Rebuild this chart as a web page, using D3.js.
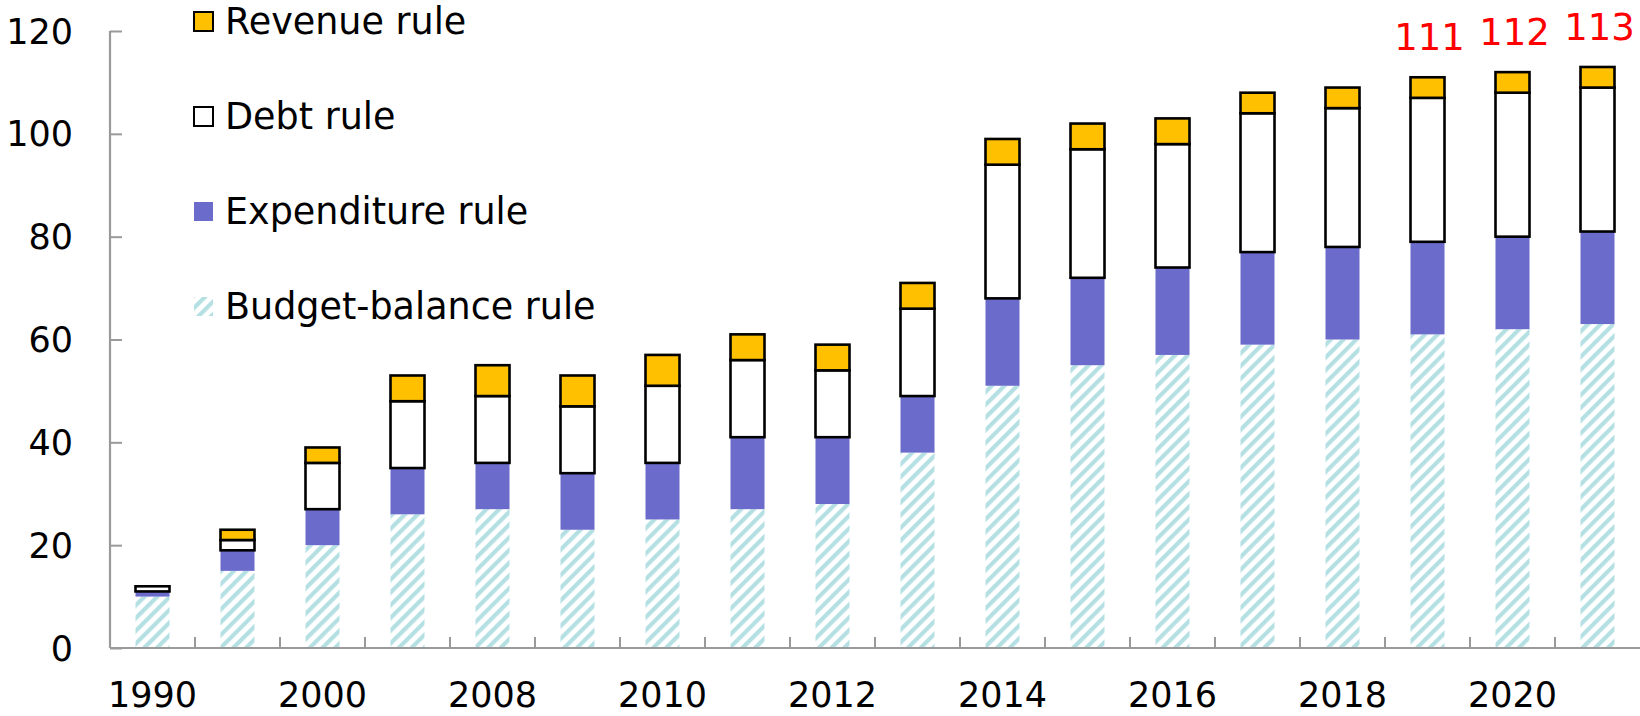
<!DOCTYPE html>
<html>
<head>
<meta charset="utf-8">
<script src="https://cdn.jsdelivr.net/npm/d3@7"></script>
<style>
  html, body { margin: 0; padding: 0; background: #fff; }
  svg { display: block; }
  text { font-family: "DejaVu Sans", Verdana, sans-serif; }
</style>
</head>
<body>
<svg id="chart" width="1640" height="716"></svg>
<script>
// Number of countries with fiscal rules, by type of rule
const years = ["1990", "1995", "2000", "2005", "2008", "2009", "2010", "2011", "2012",
               "2013", "2014", "2015", "2016", "2017", "2018", "2019", "2020", "2021"];
const budgetBalance = [10, 15, 20, 26, 27, 23, 25, 27, 28, 38, 51, 55, 57, 59, 60, 61, 62, 63];
const expenditure   = [1, 4, 7, 9, 9, 11, 11, 14, 13, 11, 17, 17, 17, 18, 18, 18, 18, 18];
const debt          = [1, 2, 9, 13, 13, 13, 15, 15, 13, 17, 26, 25, 24, 27, 27, 28, 28, 28];
const revenue       = [0, 2, 3, 5, 6, 6, 6, 5, 5, 5, 5, 5, 5, 4, 4, 4, 4, 4];
const shownYears = ["1990", "2000", "2008", "2010", "2012", "2014", "2016", "2018", "2020"];
const labelledYears = ["2019", "2020", "2021"];
const yTicks = [0, 20, 40, 60, 80, 100, 120];

const seriesKeys = ["budget", "expenditure", "debt", "revenue"];
const seriesNames = {
  revenue: "Revenue rule",
  debt: "Debt rule",
  expenditure: "Expenditure rule",
  budget: "Budget-balance rule"
};

const rows = years.map((yr, i) => ({
  year: yr,
  budget: budgetBalance[i],
  expenditure: expenditure[i],
  debt: debt[i],
  revenue: revenue[i]
}));

const svg = d3.select("#chart");
const plotLeft = 110, plotRight = 1640, plotTop = 31, plotBottom = 648;

const x = d3.scaleBand().domain(years).range([plotLeft, plotRight])
  .paddingInner(0.6).paddingOuter(0.3);
const y = d3.scaleLinear().domain([0, 120]).range([plotBottom, plotTop]);

// hatched fill for budget-balance rules
const defs = svg.append("defs");
const pat = defs.append("pattern")
  .attr("id", "hatch")
  .attr("patternUnits", "userSpaceOnUse")
  .attr("width", 9).attr("height", 9)
  .attr("patternTransform", "rotate(45)");
pat.append("rect").attr("width", 9).attr("height", 9).attr("fill", "#fff");
pat.append("rect").attr("x", 0).attr("y", 0).attr("width", 4.2).attr("height", 9)
  .attr("fill", "#b5e0e3");

const styles = {
  budget:      { fill: "url(#hatch)", stroke: "none", sw: 0 },
  expenditure: { fill: "#6b6bcc", stroke: "none", sw: 0 },
  debt:        { fill: "#ffffff", stroke: "#000", sw: 2.6 },
  revenue:     { fill: "#ffc000", stroke: "#000", sw: 2.6 }
};

const stacked = d3.stack().keys(seriesKeys)(rows);

// bars
stacked.forEach(layer => {
  const st = styles[layer.key];
  svg.append("g").selectAll("rect")
    .data(layer.filter(d => d[1] > d[0]))
    .join("rect")
    .attr("x", d => x(d.data.year))
    .attr("width", x.bandwidth())
    .attr("y", d => y(d[1]))
    .attr("height", d => y(d[0]) - y(d[1]))
    .attr("fill", st.fill)
    .attr("stroke", st.stroke)
    .attr("stroke-width", st.sw);
});

// axes
const axisColor = "#9a9a9a";
const yAxis = d3.axisRight(y).tickValues(yTicks).tickSize(12).tickFormat("");
const gy = svg.append("g").attr("transform", `translate(${plotLeft},0)`).call(yAxis);
gy.select(".domain").remove();
gy.selectAll(".tick line").attr("stroke", axisColor).attr("stroke-width", 2);
svg.append("line")
  .attr("x1", plotLeft).attr("x2", plotLeft).attr("y1", y(120)).attr("y2", y(0))
  .attr("stroke", axisColor).attr("stroke-width", 2.2);

svg.append("g").selectAll("text")
  .data(yTicks)
  .join("text")
  .attr("x", 73)
  .attr("y", d => y(d))
  .attr("dy", "0.36em")
  .attr("text-anchor", "end")
  .attr("font-size", 35)
  .attr("fill", "#000")
  .text(d => d);

// x baseline and category separators
svg.append("line")
  .attr("x1", plotLeft).attr("x2", plotRight).attr("y1", y(0)).attr("y2", y(0))
  .attr("stroke", axisColor).attr("stroke-width", 2.2);
const step = x.step();
const bounds = d3.range(1, years.length).map(i => plotLeft + i * step);
svg.append("g").selectAll("line")
  .data(bounds)
  .join("line")
  .attr("x1", d => d).attr("x2", d => d)
  .attr("y1", y(0)).attr("y2", y(0) - 11)
  .attr("stroke", axisColor).attr("stroke-width", 2);

svg.append("g").selectAll("text")
  .data(shownYears)
  .join("text")
  .attr("x", d => x(d) + x.bandwidth() / 2)
  .attr("y", 707)
  .attr("text-anchor", "middle")
  .attr("font-size", 35)
  .attr("fill", "#000")
  .text(d => d);

// totals above the latest bars
const totals = rows.filter(r => labelledYears.includes(r.year))
  .map(r => ({ year: r.year, total: r.budget + r.expenditure + r.debt + r.revenue }));
svg.append("g").selectAll("text")
  .data(totals)
  .join("text")
  .attr("x", d => x(d.year) + x.bandwidth() / 2 + 2)
  .attr("y", d => y(d.total) - 27)
  .attr("text-anchor", "middle")
  .attr("font-size", 37)
  .attr("fill", "#ff0000")
  .text(d => d.total);

// legend
const legendOrder = ["revenue", "debt", "expenditure", "budget"];
const lg = svg.append("g").selectAll("g")
  .data(legendOrder)
  .join("g")
  .attr("transform", (d, i) => `translate(193, ${21 + i * 95})`);
lg.append("rect")
  .attr("x", 1).attr("y", -9)
  .attr("width", 19).attr("height", 19)
  .attr("fill", d => styles[d].fill)
  .attr("stroke", d => styles[d].stroke)
  .attr("stroke-width", d => styles[d].sw ? 2 : 0);
lg.append("text")
  .attr("x", 32)
  .attr("y", 0)
  .attr("dy", "0.36em")
  .attr("font-size", 36.5)
  .attr("fill", "#000")
  .text(d => seriesNames[d]);
</script>
</body>
</html>
